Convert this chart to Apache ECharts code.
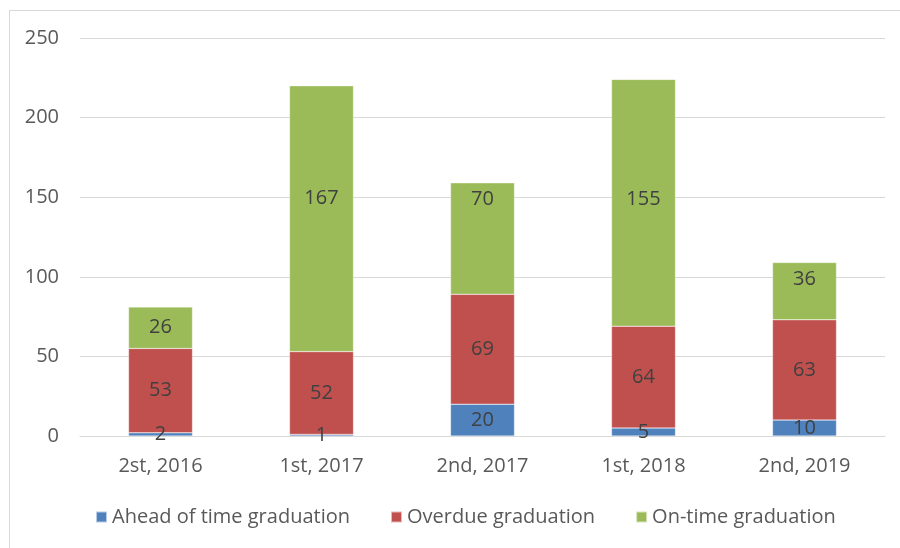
<!DOCTYPE html>
<html><head><meta charset="utf-8">
<script src="https://cdn.jsdelivr.net/npm/echarts@6/dist/echarts.min.js"></script>
<style>
html,body{margin:0;padding:0;background:#fff;}
#frame{position:absolute;left:9px;top:10px;width:900px;height:548px;border-left:1px solid #d9d9d9;border-top:1px solid #d9d9d9;box-sizing:border-box;}
#chart{position:absolute;left:0;top:0;width:900px;height:548px;}
</style></head>
<body>
<div id="frame"></div>
<div id="chart"></div>
<script>
const categories = ['2st, 2016', '1st, 2017', '2nd, 2017', '1st, 2018', '2nd, 2019'];
const seriesNames = ['Ahead of time graduation', 'Overdue graduation', 'On-time graduation'];
const aheadValues = [2, 1, 20, 5, 10];
const overdueValues = [53, 52, 69, 64, 63];
const ontimeValues = [26, 167, 70, 155, 36];
const yTicks = [0, 50, 100, 150, 200, 250];
// styling: vertical nudge (px) of the on-time labels as placed in the original
const ontimeLabelNudge = [0, -20, -39, -3, -12];
const colors = ['#4F81BD', '#C0504D', '#9BBB59'];
const FONT = 'Open Sans';
const FS = 20;

const chart = echarts.init(document.getElementById('chart'), null, {renderer: 'canvas'});
const mk = (name, data, color, nudge) => ({
  name, type: 'bar', stack: 'total', barWidth: 64,
  data: data.map((v, i) => nudge ? {value: v, label: {offset: [0, nudge[i]]}} : v),
  itemStyle: {color, borderColor: 'rgba(255,255,255,0.6)', borderWidth: 0.5},
  label: {show: true, position: 'inside', color: '#404040', fontSize: FS, fontFamily: FONT},
  emphasis: {disabled: true}
});
chart.setOption({
  animation: false,
  textStyle: {fontFamily: FONT},
  grid: {left: 80, right: 15, top: 38, bottom: 112, containLabel: false},
  legend: {
    top: 502, left: 90, itemWidth: 11, itemHeight: 11, itemGap: 40,
    icon: 'rect',
    textStyle: {fontSize: FS, color: '#595959', fontFamily: FONT},
    data: seriesNames
  },
  xAxis: {
    type: 'category', data: categories,
    axisLine: {lineStyle: {color: '#d9d9d9', width: 1}},
    axisTick: {show: false},
    axisLabel: {color: '#595959', fontSize: FS, margin: 20, fontFamily: FONT}
  },
  yAxis: {
    type: 'value', min: yTicks[0], max: yTicks[yTicks.length - 1], interval: 50,
    axisLine: {show: false}, axisTick: {show: false},
    axisLabel: {color: '#595959', fontSize: FS, margin: 21, fontFamily: FONT},
    splitLine: {lineStyle: {color: '#d9d9d9', width: 1}}
  },
  series: [
    mk(seriesNames[0], aheadValues, colors[0]),
    mk(seriesNames[1], overdueValues, colors[1]),
    mk(seriesNames[2], ontimeValues, colors[2], ontimeLabelNudge)
  ]
});
</script>
</body></html>
